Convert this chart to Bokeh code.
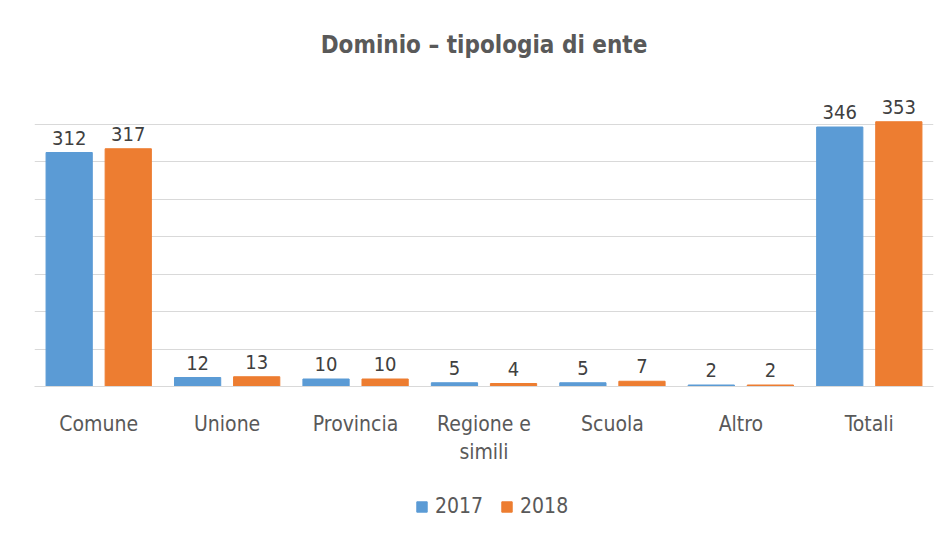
from bokeh.plotting import figure
from bokeh.layouts import column
from bokeh.models import (ColumnDataSource, FactorRange, Range1d, LabelSet, Legend,
                          LegendItem, FixedTicker)
from bokeh.core.properties import value
from bokeh.transform import dodge
from bokeh.embed import file_html
from bokeh.resources import INLINE

categories = ["Comune", "Unione", "Provincia", "Regione e\nsimili", "Scuola", "Altro", "Totali"]
values_2017 = [312, 12, 10, 5, 5, 2, 346]
values_2018 = [317, 13, 10, 4, 7, 2, 353]
series_names = ["2017", "2018"]
grid_ticks = [0, 50, 100, 150, 200, 250, 300, 350, 400]

FONT = "DejaVu Sans Condensed"
BLUE = "#5B9BD5"
ORANGE = "#ED7D31"

src = ColumnDataSource(dict(
    cat=categories,
    v17=values_2017,
    v18=values_2018,
    t17=[str(v) for v in values_2017],
    t18=[str(v) for v in values_2018],
))

p = figure(frame_width=899, frame_height=300, output_backend="svg", toolbar_location=None,
           x_range=FactorRange(*categories, range_padding=0),
           y_range=Range1d(0, 400),
           min_border_left=34, min_border_right=9, min_border_top=86, min_border_bottom=84,
           title="Dominio – tipologia di ente")

p.title.align = "center"
p.title.text_font = FONT
p.title.text_font_size = "24px"
p.title.text_font_style = "bold"
p.title.text_color = "#595959"
p.title.standoff = 55

r17 = p.vbar(x=dodge("cat", -0.23, range=p.x_range), top="v17", width=0.36, source=src,
             fill_color=BLUE, line_color=BLUE)
r18 = p.vbar(x=dodge("cat", 0.23, range=p.x_range), top="v18", width=0.36, source=src,
             fill_color=ORANGE, line_color=ORANGE)

for col, txt, off in (("v17", "t17", -0.23), ("v18", "t18", 0.23)):
    p.add_layout(LabelSet(x=dodge("cat", off, range=p.x_range), y=col, text=txt, source=src,
                          text_align="center", text_baseline="bottom", y_offset=8,
                          text_font=value(FONT), text_font_size=value("20px"),
                          text_color="#404040"))

p.yaxis.visible = False
p.ygrid.ticker = FixedTicker(ticks=grid_ticks)
p.ygrid.grid_line_color = "#D9D9D9"
p.ygrid.grid_line_width = 1
p.xgrid.visible = False
p.outline_line_color = None

xa = p.xaxis[0]
xa.axis_line_color = "#D9D9D9"
xa.major_tick_line_color = None
xa.minor_tick_line_color = None
xa.major_label_text_font = FONT
xa.major_label_text_font_size = "21px"
xa.major_label_text_color = "#595959"
xa.major_label_standoff = 19

# legend strip below the chart (bars of the same data fall outside its y range)
lp = figure(width=942, height=63, output_backend="svg", toolbar_location=None,
            x_range=FactorRange(*categories), y_range=Range1d(1000, 1001),
            min_border=0, x_axis_location=None, y_axis_location=None)
lp.xgrid.visible = False
lp.ygrid.visible = False
lp.outline_line_color = None
g17 = lp.vbar(x="cat", top="v17", width=0.3, source=src, fill_color=BLUE, line_color=BLUE)
g18 = lp.vbar(x="cat", top="v18", width=0.3, source=src, fill_color=ORANGE, line_color=ORANGE)

legend = Legend(items=[LegendItem(label=series_names[0], renderers=[g17], index=0),
                       LegendItem(label=series_names[1], renderers=[g18], index=0)],
                orientation="horizontal", location=(381, 15),
                label_text_font=FONT, label_text_font_size="21px", label_text_color="#595959",
                glyph_width=13, glyph_height=13, label_standoff=7, spacing=17,
                border_line_color=None, background_fill_alpha=0, margin=0, padding=0)
lp.add_layout(legend, "center")

layout = column(p, lp, spacing=0)
open("out.html", "w").write(file_html(layout, INLINE))
